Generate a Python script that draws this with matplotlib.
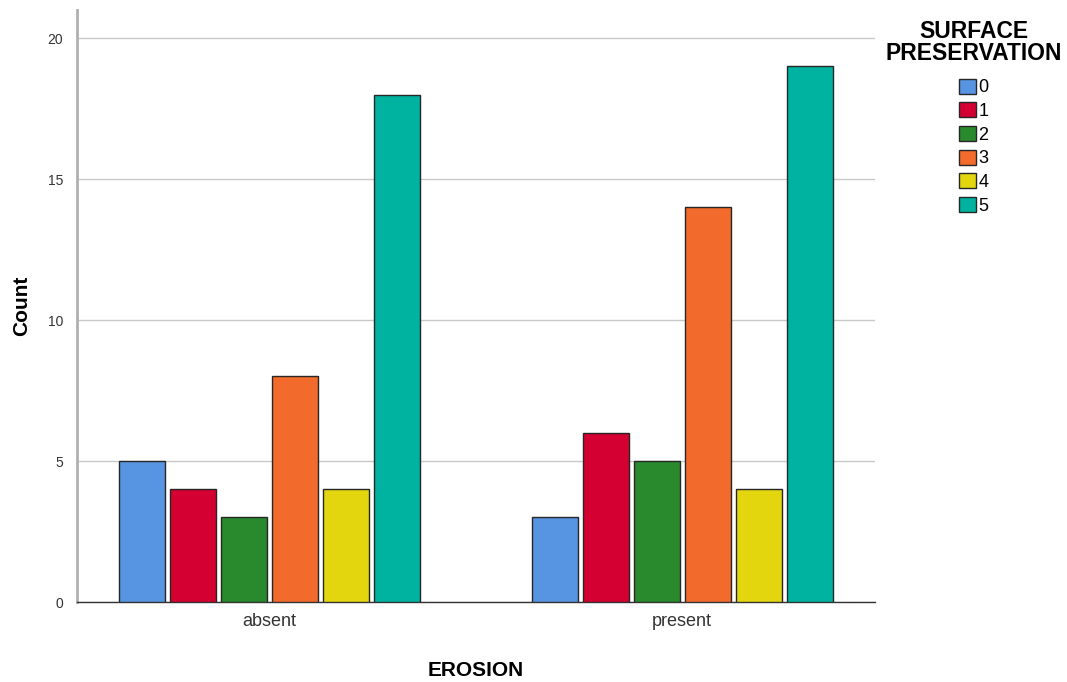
import matplotlib.pyplot as plt
import numpy as np

plt.rcParams['font.family'] = ['Liberation Sans', 'DejaVu Sans']

erosion = ['absent', 'present']
levels = ['0', '1', '2', '3', '4', '5']
counts = {
    '0': [5, 3],
    '1': [4, 6],
    '2': [3, 5],
    '3': [8, 14],
    '4': [4, 4],
    '5': [18, 19],
}
colors = ['#5795e3', '#d50032', '#288a2c', '#f26a2c', '#e3d60e', '#00b3a0']

fig = plt.figure(figsize=(10.67, 6.82), dpi=100)
ax = fig.add_axes([0.0722, 0.1173, 0.748, 0.868])

x = np.arange(len(erosion))
step = 0.1235
width = 0.111
for i, lev in enumerate(levels):
    off = (i - 2.5) * step
    ax.bar(x + off, counts[lev], width, color=colors[i], edgecolor='#262626',
           linewidth=1.0, label=lev, zorder=3)

ax.set_xlim(-0.465, 1.467)
ax.set_ylim(0, 21)
ax.set_yticks([0, 5, 10, 15, 20])
ax.set_xticks(x)
ax.set_xticklabels(erosion, fontsize=13, color='#333333')
ax.tick_params(axis='y', labelsize=10, colors='#333333', length=0, pad=10)
ax.tick_params(axis='x', length=0, pad=8)
ax.grid(axis='y', color='#c8c8c8', linewidth=1, zorder=0)

for s in ['top', 'right']:
    ax.spines[s].set_visible(False)
ax.spines['left'].set_color('#b0b0b0')
ax.spines['left'].set_linewidth(2)
ax.spines['bottom'].set_color('#333333')
ax.spines['bottom'].set_linewidth(1)

ax.set_ylabel('Count', fontsize=15, fontweight='bold', labelpad=12)
ax.set_xlabel('EROSION', fontsize=15, fontweight='bold', labelpad=22)

leg = fig.legend(title='SURFACE\nPRESERVATION', loc='upper center',
                 bbox_to_anchor=(974 / 1067, 1 - 7 / 682), frameon=False,
                 fontsize=13, handlelength=0.9, handleheight=0.9,
                 handletextpad=0.15, labelspacing=0.33, alignment='center',
                 borderpad=0.2)
leg.get_title().set_fontweight('bold')
leg.get_title().set_fontsize(16.5)
leg.get_title().set_multialignment('center')
leg.get_title().set_linespacing(0.95)
leg._legend_box.sep = 10

fig.savefig('out.png', dpi=100)
